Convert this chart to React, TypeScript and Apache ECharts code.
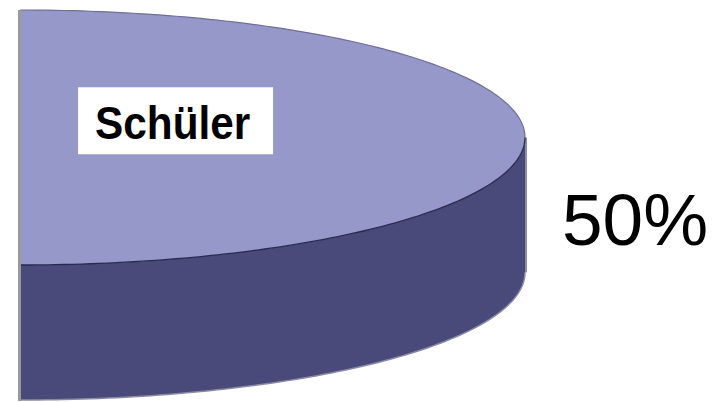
import React, { useEffect, useRef } from "react";
import * as echarts from "echarts";

// ---- data ----
const sliceNames: string[] = ["Schüler"];
const sliceValues: number[] = [50];
const totalValue = 100;
const percentLabels: string[] = ["50%"];

const TOP_COLOR = "#9598c8";
const SIDE_COLOR = "#4a4a7a";

export default function App() {
  const ref = useRef<HTMLDivElement>(null);

  useEffect(() => {
    if (!ref.current) return;
    const chart = echarts.init(ref.current, undefined, { renderer: "svg" });

    const cumBefore: number[] = [];
    let acc = 0;
    sliceValues.forEach((v) => {
      cumBefore.push(acc);
      acc += v;
    });

    const cx = 20;
    const cy = 137.5;
    const rx = 505;
    const ry = 127.5;
    const depth = 135;

    const pt = (deg: number, dy = 0): number[] => {
      const r = (deg * Math.PI) / 180;
      return [cx + rx * Math.cos(r), cy + ry * Math.sin(r) + dy];
    };
    const arc = (a: number, b: number, dy = 0): number[][] => {
      const pts: number[][] = [];
      const n = Math.max(2, Math.ceil(Math.abs(b - a) / 1));
      for (let i = 0; i <= n; i++) pts.push(pt(a + ((b - a) * i) / n, dy));
      return pts;
    };

    const renderItem = (params: any, api: any) => {
      const i = params.dataIndex;
      const value = api.value(0);
      const start = -90 + (360 * cumBefore[i]) / totalValue;
      const end = start + (360 * value) / totalValue;
      const mid = (start + end) / 2;

      const topPts = [[cx, cy], ...arc(start, end)];
      const sa = Math.max(start, 0);
      const sb = Math.min(end, 180);
      const children: any[] = [];

      if (sb > sa) {
        const upper = arc(sa, sb);
        const lower = arc(sb, sa, depth);
        children.push({
          type: "polygon",
          shape: { points: [...upper, ...lower] },
          style: { fill: SIDE_COLOR, stroke: "none" },
        });
        children.push({
          type: "polyline",
          shape: { points: arc(sb, sa, depth) },
          style: { fill: "none", stroke: "#8a8aa6", lineWidth: 1.5 },
        });
        // right vertical edge of the side
        const r0 = pt(sa);
        children.push({
          type: "line",
          shape: { x1: r0[0] + 1, y1: r0[1], x2: r0[0] + 1, y2: r0[1] + depth },
          style: { stroke: "#8c8ca4", lineWidth: 2 },
        });
      }

      children.push({
        type: "polygon",
        shape: { points: topPts },
        style: { fill: TOP_COLOR, stroke: "none" },
      });
      // back edge of the top face
      children.push({
        type: "polyline",
        shape: { points: arc(start, Math.min(0, end)) },
        style: { fill: "none", stroke: "#6e6e9a", lineWidth: 1.2 },
      });
      // front edge of the top face
      if (sb > sa) {
        children.push({
          type: "polyline",
          shape: { points: arc(sa, sb) },
          style: { fill: "none", stroke: "#2a2a4e", lineWidth: 1.3 },
        });
      }
      // cut edge (seen edge-on)
      const e0 = pt(start);
      const e1 = pt(end, depth);
      children.push({
        type: "line",
        shape: { x1: cx - 0.5, y1: e0[1], x2: cx - 0.5, y2: e1[1] + 1 },
        style: { stroke: "#999999", lineWidth: 3 },
      });

      // name label box
      const lx = cx + rx * 0.115;
      const ly = cy - ry * 0.395;
      children.push({
        type: "rect",
        shape: { x: lx, y: ly, width: 195, height: 67 },
        style: { fill: "#ffffff" },
      });
      children.push({
        type: "text",
        x: lx + 17,
        y: ly + 36,
        scaleX: 0.92,
        style: {
          text: sliceNames[i],
          fontFamily: "'Liberation Sans', Arial, sans-serif",
          fontWeight: "bold",
          fontSize: 46,
          fill: "#000000",
          align: "left",
          verticalAlign: "middle",
        },
      });

      // percent label
      const mp = pt(mid);
      children.push({
        type: "text",
        x: mp[0] + 37,
        y: mp[1] + 82,
        style: {
          text: percentLabels[i],
          fontFamily: "'Liberation Sans', Arial, sans-serif",
          fontSize: 73,
          fill: "#000000",
          align: "left",
          verticalAlign: "middle",
        },
      });

      return { type: "group", children };
    };

    chart.setOption({
      animation: false,
      backgroundColor: "#ffffff",
      series: [
        {
          type: "custom",
          coordinateSystem: "none",
          renderItem,
          data: sliceValues.map((v, k) => ({ name: sliceNames[k], value: [v] })),
        },
      ],
    });

    return () => chart.dispose();
  }, []);

  return (
    <div
      ref={ref}
      style={{ position: "fixed", left: 0, top: 0, width: 714, height: 402 }}
    />
  );
}
